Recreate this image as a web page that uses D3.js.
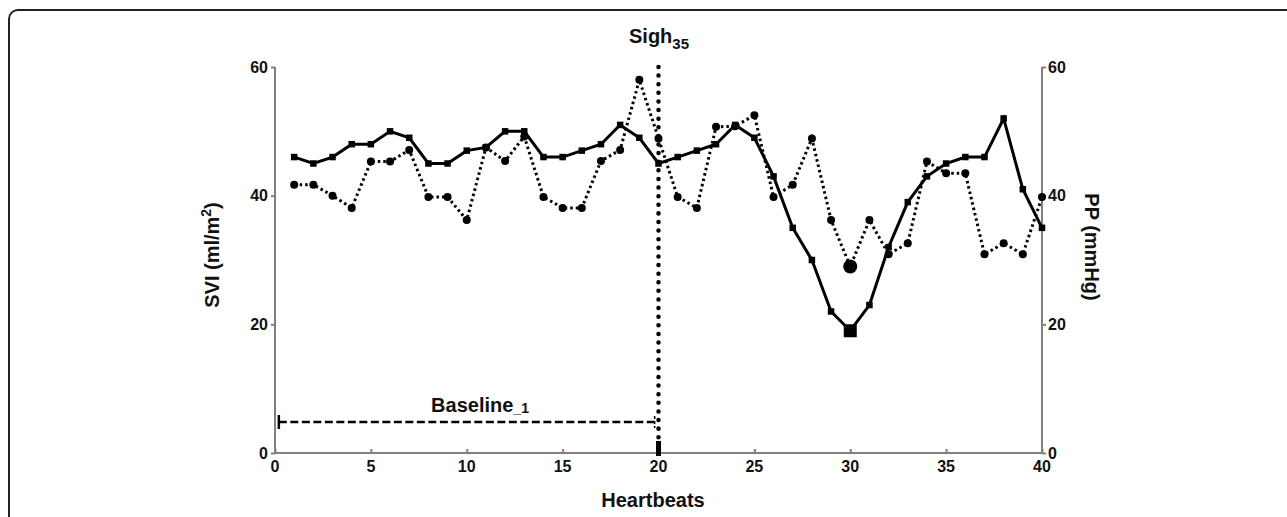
<!DOCTYPE html>
<html>
<head>
<meta charset="utf-8">
<title>SVI and PP around a sigh</title>
<script src="https://cdn.jsdelivr.net/npm/d3@7"></script>
<style>
body { margin: 0; background: #fff; }
text { font-family: "Liberation Sans", Arial, sans-serif; font-weight: bold; fill: #111; }
</style>
</head>
<body>
<script>
// heartbeats 1..40
var beats = d3.range(1, 41);
// stroke volume index (ml/m2), solid line with squares
var svi = [46, 45, 46, 48, 48, 50, 49, 45, 45, 47,
           47.5, 50, 50, 46, 46, 47, 48, 51, 49, 45,
           46, 47, 48, 51, 49, 43, 35, 30, 22, 19,
           23, 32, 39, 43, 45, 46, 46, 52, 41, 35];
// pulse pressure (mmHg), dotted line with circles
var pp = [41.7, 41.7, 40, 38.1, 45.3, 45.3, 47.1, 39.8, 39.8, 36.2,
          47.5, 45.4, 49.2, 39.8, 38.1, 38.1, 45.4, 47.1, 58, 48.9,
          39.8, 38.1, 50.7, 50.8, 52.5, 39.8, 41.7, 48.9, 36.2, 29,
          36.2, 30.9, 32.6, 45.3, 43.5, 43.5, 30.9, 32.6, 30.9, 39.8];
var xTicks = [0, 5, 10, 15, 20, 25, 30, 35, 40];
var yTicks = [0, 20, 40, 60];
var sighBeat = 20;
var nadirBeat = 30;
var baselineRange = [0.2, 19.8];

var w = 1287, h = 517;
var svg = d3.select("body").append("svg")
    .attr("width", w)
    .attr("height", h);

// frame (cut off at right and bottom)
svg.append("rect")
    .attr("x", 9).attr("y", 10)
    .attr("width", 1300).attr("height", 530)
    .attr("rx", 9)
    .attr("fill", "none")
    .attr("stroke", "#222")
    .attr("stroke-width", 2);

var x = d3.scaleLinear().domain([0, 40]).range([275, 1042]);
var yL = d3.scaleLinear().domain([0, 60]).range([453, 67]);
var yR = d3.scaleLinear().domain([0, 60]).range([453, 67]);

var grey = "#808080";

// x axis, ticks point up
var gx = svg.append("g").attr("transform", "translate(0," + yL(0) + ")")
    .call(d3.axisTop(x).tickValues(xTicks).tickSize(4).tickFormat(""));
gx.selectAll("path, line").attr("stroke", grey).attr("stroke-width", 2);
gx.select(".domain").attr("d", "M" + x(0) + ",0H" + x(40));
svg.append("g").selectAll("text").data(xTicks).enter().append("text")
    .attr("x", function(d) { return x(d); })
    .attr("y", 472)
    .attr("text-anchor", "middle")
    .style("font-size", "16px")
    .text(function(d) { return d; });

// left axis
var gl = svg.append("g").attr("transform", "translate(" + x(0) + ",0)")
    .call(d3.axisLeft(yL).tickValues(yTicks).tickSize(4).tickPadding(3));
gl.selectAll("path, line").attr("stroke", grey).attr("stroke-width", 2);
gl.select(".domain").attr("d", "M0," + yL(0) + "V" + yL(60));
gl.selectAll("text").style("font-size", "16px").attr("fill", "#111");

// right axis
var gr = svg.append("g").attr("transform", "translate(" + x(40) + ",0)")
    .call(d3.axisRight(yR).tickValues(yTicks).tickSize(4).tickPadding(2));
gr.selectAll("path, line").attr("stroke", grey).attr("stroke-width", 2);
gr.select(".domain").attr("d", "M0," + yR(0) + "V" + yR(60));
gr.selectAll("text").style("font-size", "16px").attr("fill", "#111");

// axis titles
svg.append("text")
    .attr("x", 653).attr("y", 507)
    .attr("text-anchor", "middle")
    .style("font-size", "20px")
    .text("Heartbeats");

var lt = svg.append("text")
    .attr("transform", "translate(219,255) rotate(-90)")
    .attr("text-anchor", "middle")
    .style("font-size", "20px");
lt.append("tspan").text("SVI (ml/m");
lt.append("tspan").attr("dy", -8).style("font-size", "14px").text("2");
lt.append("tspan").attr("dy", 8).text(")");

svg.append("text")
    .attr("transform", "translate(1085,247) rotate(90)")
    .attr("text-anchor", "middle")
    .style("font-size", "20px")
    .text("PP (mmHg)");

// sigh marker line
svg.append("line")
    .attr("x1", x(sighBeat)).attr("x2", x(sighBeat))
    .attr("y1", yL(60)).attr("y2", yL(0) - 8)
    .attr("stroke", "#000")
    .attr("stroke-width", 4.5)
    .attr("stroke-linecap", "round")
    .attr("stroke-dasharray", "0.01 8.6");
svg.append("rect")
    .attr("x", x(sighBeat) - 2.5).attr("y", yL(0) - 12)
    .attr("width", 5).attr("height", 15)
    .attr("fill", "#000");

var st = svg.append("text")
    .attr("x", 629).attr("y", 43)
    .style("font-size", "20px");
st.append("tspan").text("Sigh");
st.append("tspan").attr("dy", 6).style("font-size", "15px").text("35");

// baseline bracket
var by = 422;
svg.append("line")
    .attr("x1", x(baselineRange[0])).attr("x2", x(baselineRange[1]))
    .attr("y1", by).attr("y2", by)
    .attr("stroke", "#000").attr("stroke-width", 2.5)
    .attr("stroke-dasharray", "8 3.5");
svg.append("line")
    .attr("x1", x(baselineRange[0])).attr("x2", x(baselineRange[0]))
    .attr("y1", by - 7).attr("y2", by + 7)
    .attr("stroke", "#000").attr("stroke-width", 2.5);
svg.append("line")
    .attr("x1", x(baselineRange[1])).attr("x2", x(baselineRange[1]))
    .attr("y1", by - 6).attr("y2", by + 6)
    .attr("stroke", "#000").attr("stroke-width", 1.5)
    .attr("stroke-dasharray", "3 2");
var bt = svg.append("text")
    .attr("x", 480).attr("y", 412)
    .attr("text-anchor", "middle")
    .style("font-size", "20px");
bt.append("tspan").text("Baseline");
bt.append("tspan").attr("dy", 1).style("font-size", "14px").text("_1");

// PP dotted line with circles
var ppLine = d3.line()
    .x(function(d, i) { return x(beats[i]); })
    .y(function(d) { return yR(d); });
svg.append("path")
    .datum(pp)
    .attr("d", ppLine)
    .attr("fill", "none")
    .attr("stroke", "#000")
    .attr("stroke-width", 3)
    .attr("stroke-dasharray", "2.5 3");
svg.selectAll("circle.pp")
    .data(pp)
    .enter()
    .append("circle")
    .attr("class", "pp")
    .attr("cx", function(d, i) { return x(beats[i]); })
    .attr("cy", function(d) { return yR(d); })
    .attr("r", function(d, i) { return beats[i] === nadirBeat ? 7 : 4; })
    .attr("fill", "#000");

// SVI solid line with squares
var sviLine = d3.line()
    .x(function(d, i) { return x(beats[i]); })
    .y(function(d) { return yL(d); });
svg.append("path")
    .datum(svi)
    .attr("d", sviLine)
    .attr("fill", "none")
    .attr("stroke", "#000")
    .attr("stroke-width", 3);
svg.selectAll("rect.svi")
    .data(svi)
    .enter()
    .append("rect")
    .attr("class", "svi")
    .attr("x", function(d, i) { var s = beats[i] === nadirBeat ? 13 : 6.5; return x(beats[i]) - s / 2; })
    .attr("y", function(d, i) { var s = beats[i] === nadirBeat ? 13 : 6.5; return yL(d) - s / 2; })
    .attr("width", function(d, i) { return beats[i] === nadirBeat ? 13 : 6.5; })
    .attr("height", function(d, i) { return beats[i] === nadirBeat ? 13 : 6.5; })
    .attr("fill", "#000");
</script>
</body>
</html>
